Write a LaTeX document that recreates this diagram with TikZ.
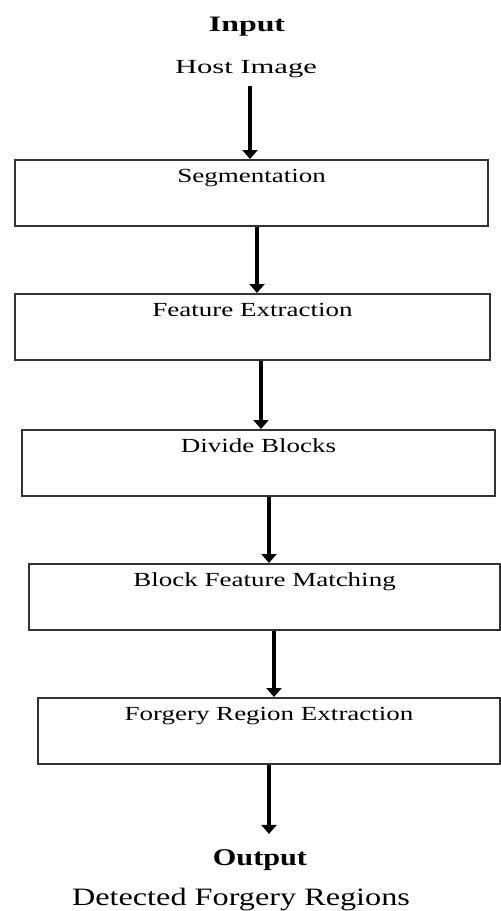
\documentclass[tikz,border=0pt]{standalone}
\usepackage{fontspec}
\setmainfont{Liberation Serif}
\usetikzlibrary{arrows.meta}
\newcommand\sx[2]{\scalebox{#1}[1]{#2}}
\tikzset{
  stepbox/.style={draw=black!80, line width=1.8pt, rectangle, anchor=north,
    inner xsep=0pt, inner ysep=0pt, minimum height=66pt,
    text height=22.5pt, text depth=43.5pt, font=\fontsize{20}{24}\selectfont},
  arr/.style={line width=3.6pt, -{Triangle[width=15pt,length=9pt]}},
  plain/.style={inner sep=0pt, anchor=base}
}
\begin{document}
\begin{tikzpicture}[x=1pt,y=-1pt]
\useasboundingbox (0,0) rectangle (501,911);
\node[plain, font=\fontsize{22}{26}\selectfont\bfseries] (input) at (247,31) {\sx{1.45}{Input}};
\node[plain, font=\fontsize{20}{24}\selectfont] (host) at (246,73) {\sx{1.53}{Host Image}};

\node[stepbox, minimum width=473pt] (b1) at (251.5,159) {\sx{1.35}{Segmentation}};
\node[stepbox, minimum width=475pt] (b2) at (252.5,293) {\sx{1.35}{Feature Extraction}};
\node[stepbox, minimum width=473pt] (b3) at (258.5,429) {\sx{1.35}{Divide Blocks}};
\node[stepbox, minimum width=471pt] (b4) at (264.5,563) {\sx{1.35}{Block Feature Matching}};
\node[stepbox, minimum width=462pt] (b5) at (269,697) {\sx{1.35}{Forgery Region Extraction}};

\node[plain, font=\fontsize{24}{28}\selectfont\bfseries] (output) at (260,865) {\sx{1.26}{Output}};
\node[plain, font=\fontsize{25}{30}\selectfont] (det) at (241,905) {\sx{1.29}{Detected Forgery Regions}};

\draw[arr] ([xshift=4pt,yshift=-8pt]host.south) -- ([xshift=-1.5pt]b1.north);
\draw[arr] ([xshift=5.5pt]b1.south) -- ([xshift=4.5pt]b2.north);
\draw[arr] ([xshift=8.5pt]b2.south) -- ([xshift=2.5pt]b3.north);
\draw[arr] ([xshift=10.5pt]b3.south) -- ([xshift=4.5pt]b4.north);
\draw[arr] ([xshift=9.5pt]b4.south) -- ([xshift=5pt]b5.north);
\draw[arr] ([xshift=0pt]b5.south) -- ([xshift=9pt,yshift=15pt]output.north);
\end{tikzpicture}
\end{document}
